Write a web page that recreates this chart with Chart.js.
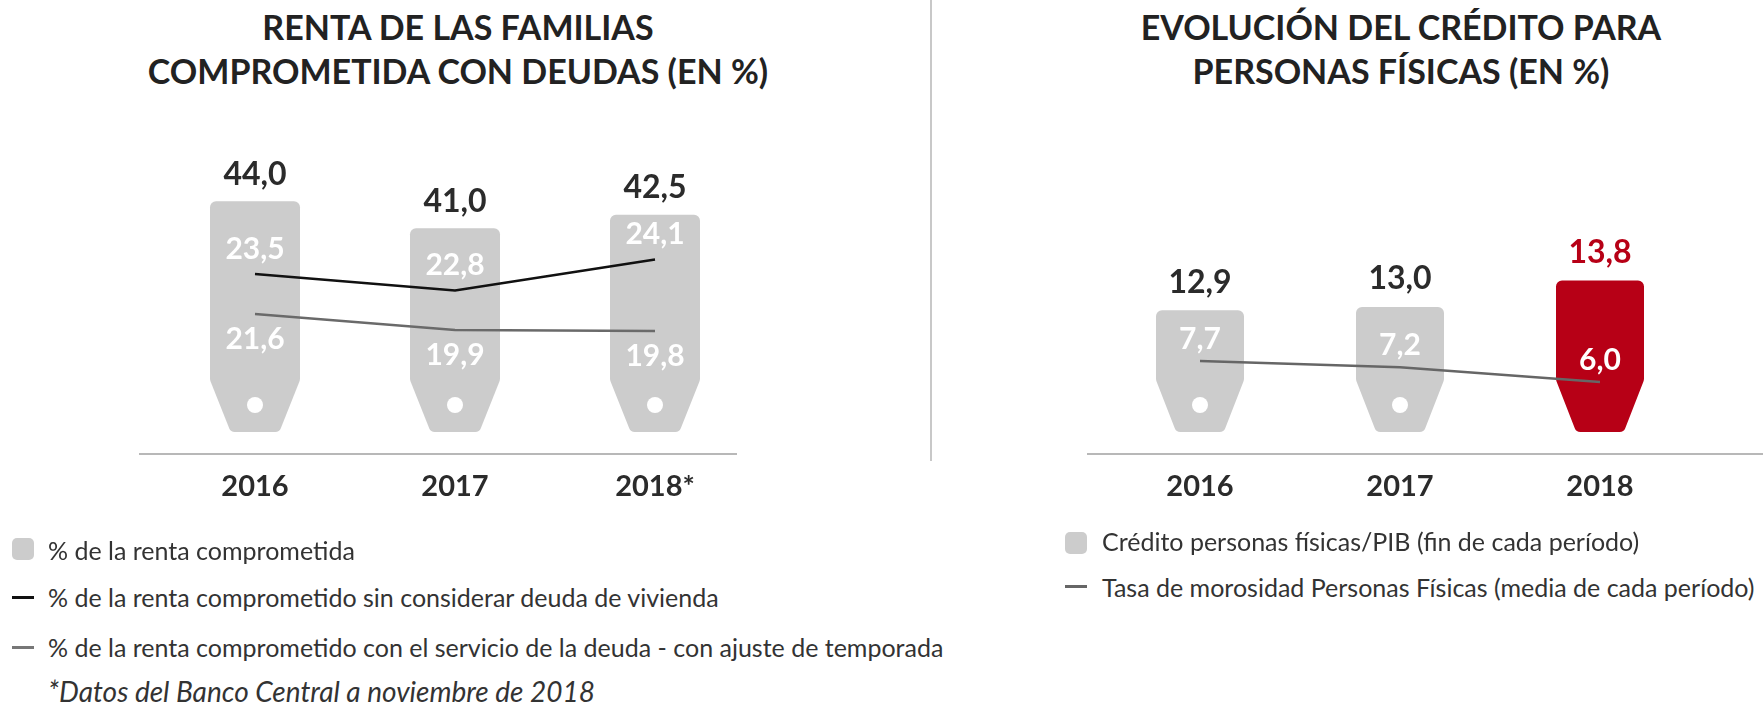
<!DOCTYPE html>
<html>
<head>
<meta charset="utf-8">
<script src="https://cdn.jsdelivr.net/npm/chart.js@4.4.0/dist/chart.umd.min.js"></script>
<style>
  body { margin: 0; width: 1763px; height: 709px; background: #fff; position: relative; overflow: hidden; font-family: Lato, "Open Sans", sans-serif; color: #2b2b2b; }
  .title { position: absolute; top: 5px; width: 800px; text-align: center; font-weight: 700; font-size: 34px; line-height: 44px; color: #222; }
  .divider { position: absolute; left: 930px; top: 0; width: 1.5px; height: 461px; background: #c8c8c8; }
  .leg { position: absolute; font-size: 25px; line-height: 30px; white-space: nowrap; color: #333; }
  .box { position: absolute; width: 22px; height: 22px; border-radius: 5px; background: #cccccc; }
  .dash { position: absolute; width: 22px; height: 3px; }
  canvas { position: absolute; top: 110px; }
</style>
</head>
<body>
<div class="title" style="left:58px">RENTA DE LAS FAMILIAS<br>COMPROMETIDA CON DEUDAS (EN %)</div>
<div class="title" style="left:1001px">EVOLUCIÓN DEL CRÉDITO PARA<br>PERSONAS FÍSICAS (EN %)</div>
<div class="divider"></div>

<canvas id="left" width="931" height="432" style="left:0"></canvas>
<canvas id="right" width="832" height="432" style="left:931px"></canvas>

<div class="box" style="left:12px;top:538px"></div>
<div class="leg" style="left:48px;top:535px">% de la renta comprometida</div>
<div class="dash" style="left:12px;top:596px;background:#111"></div>
<div class="leg" style="left:48px;top:582px">% de la renta comprometido sin considerar deuda de vivienda</div>
<div class="dash" style="left:12px;top:646px;background:#777"></div>
<div class="leg" style="left:48px;top:632px">% de la renta comprometido con el servicio de la deuda - con ajuste de temporada</div>
<div class="leg" style="left:48px;top:676px;font-style:italic;font-size:28px">*Datos del Banco Central a noviembre de 2018</div>

<div class="box" style="left:1065px;top:532px"></div>
<div class="leg" style="left:1102px;top:526px">Crédito personas físicas/PIB (fin de cada período)</div>
<div class="dash" style="left:1065px;top:585px;background:#666"></div>
<div class="leg" style="left:1102px;top:572px">Tasa de morosidad Personas Físicas (media de cada período)</div>

<script>
// left chart
const yearsLeft = ['2016', '2017', '2018*'];
const rentaComprometida = [44.0, 41.0, 42.5];
const sinVivienda = [23.5, 22.8, 24.1];
const servicioDeuda = [21.6, 19.9, 19.8];

// right chart
const yearsRight = ['2016', '2017', '2018'];
const creditoPIB = [12.9, 13.0, 13.8];
const morosidad = [7.7, 7.2, 6.0];

const GRAY = '#cccccc';
const RED = '#b70016';

// value where the tags end (bottom of the plot area)
const leftBase = 18.36;
const rightBase = 9.212;

function fmt(v) {
    return v.toFixed(1).replace('.', ',');
}

// price-tag shaped bars
function drawTag(ctx, x, top, base, w, color, hole) {
    const l = x - w / 2, r = x + w / 2;
    const neck = base - 52;
    const bw = w * 0.27;
    ctx.save();
    ctx.fillStyle = color;
    ctx.beginPath();
    ctx.moveTo(x, top);
    ctx.arcTo(r, top, r, neck, 6);
    ctx.arcTo(r, neck, x + bw, base, 8);
    ctx.arcTo(x + bw, base, x - bw, base, 6);
    ctx.arcTo(x - bw, base, l, neck, 6);
    ctx.arcTo(l, neck, l, top, 8);
    ctx.arcTo(l, top, x, top, 6);
    ctx.closePath();
    ctx.fill();
    if (hole) {
        ctx.fillStyle = '#fff';
        ctx.beginPath();
        ctx.arc(x, base - 27, 8, 0, Math.PI * 2);
        ctx.fill();
    }
    ctx.restore();
}

const tagPlugin = {
    id: 'tags',
    beforeDatasetDraw(chart, args, opts) {
        if (args.meta.type !== 'bar') return;
        const ctx = chart.ctx;
        args.meta.data.forEach((el, j) => {
            const p = el.getProps(['x', 'y', 'base', 'width'], true);
            drawTag(ctx, p.x, p.y, p.base, p.width, el.options.backgroundColor, opts.holes[j]);
        });
        return false;
    }
};

const axisLine = {
    id: 'axisLine',
    beforeDatasetsDraw(chart, args, opts) {
        const a = chart.chartArea;
        const ctx = chart.ctx;
        ctx.save();
        ctx.strokeStyle = '#a0a0a0';
        ctx.lineWidth = 1.5;
        ctx.beginPath();
        ctx.moveTo(a.left + opts.left, a.bottom + 22);
        ctx.lineTo(a.right + opts.right, a.bottom + 22);
        ctx.stroke();
        ctx.restore();
    }
};

const valueLabels = {
    id: 'valueLabels',
    afterDatasetsDraw(chart, args, opts) {
        const ctx = chart.ctx;
        opts.styles.forEach((st, i) => {
            const meta = chart.getDatasetMeta(i);
            const data = chart.data.datasets[i].data;
            meta.data.forEach((el, j) => {
                ctx.save();
                ctx.font = st.font;
                ctx.fillStyle = Array.isArray(st.color) ? st.color[j] : st.color;
                ctx.textAlign = 'center';
                ctx.textBaseline = 'middle';
                ctx.fillText(fmt(data[j]), el.x, el.y + st.offset);
                ctx.restore();
            });
        });
    }
};

function xScale() {
    return {
        grid: { display: false, drawTicks: false },
        border: { display: false },
        ticks: {
            color: '#2b2b2b',
            font: { family: 'Lato', size: 29, weight: 'bold' },
            padding: 37.6,
            maxRotation: 0
        }
    };
}

new Chart(document.getElementById('left'), {
    type: 'bar',
    data: {
        labels: yearsLeft,
        datasets: [{
            label: '% de la renta comprometida',
            data: rentaComprometida,
            base: leftBase,
            backgroundColor: GRAY,
            barThickness: 90,
            yAxisID: 'y',
            order: 3
        }, {
            type: 'line',
            label: '% de la renta comprometido sin considerar deuda de vivienda',
            data: sinVivienda,
            borderColor: '#111',
            borderWidth: 2.5,
            pointRadius: 0,
            yAxisID: 'y2',
            order: 1
        }, {
            type: 'line',
            label: '% de la renta comprometido con el servicio de la deuda - con ajuste de temporada',
            data: servicioDeuda,
            borderColor: '#6a6a6a',
            borderWidth: 2.5,
            pointRadius: 0,
            yAxisID: 'y3',
            order: 2
        }]
    },
    options: {
        responsive: false,
        animation: false,
        layout: { padding: { left: 155, right: 176, top: 0, bottom: 0 } },
        scales: {
            x: xScale(),
            y: { display: false, min: leftBase, max: 54.14 },
            y2: { display: false, min: 16.884, max: 30.357 },
            y3: { display: false, min: 9.146, max: 43.112 }
        },
        plugins: {
            legend: { display: false },
            tooltip: { enabled: false },
            tags: { holes: [true, true, true] },
            axisLine: { left: -16, right: -18 },
            valueLabels: {
                styles: [
                    { font: 'bold 32px Lato', color: '#2b2b2b', offset: -27 },
                    { font: 'bold 30px Lato', color: '#ffffff', offset: -25 },
                    { font: 'bold 30px Lato', color: '#ffffff', offset: 25 }
                ]
            }
        }
    },
    plugins: [tagPlugin, axisLine, valueLabels]
});

new Chart(document.getElementById('right'), {
    type: 'bar',
    data: {
        labels: yearsRight,
        datasets: [{
            label: 'Crédito personas físicas/PIB (fin de cada período)',
            data: creditoPIB,
            base: rightBase,
            backgroundColor: [GRAY, GRAY, RED],
            barThickness: 88,
            yAxisID: 'y',
            order: 2
        }, {
            type: 'line',
            label: 'Tasa de morosidad Personas Físicas (media de cada período)',
            data: morosidad,
            borderColor: '#666',
            borderWidth: 2.5,
            pointRadius: 0,
            yAxisID: 'y2',
            order: 1
        }]
    },
    options: {
        responsive: false,
        animation: false,
        layout: { padding: { left: 169, right: 63, top: 0, bottom: 0 } },
        scales: {
            x: xScale(),
            y: { display: false, min: rightBase, max: 18.97 },
            y2: { display: false, min: 1.951, max: 28.024 }
        },
        plugins: {
            legend: { display: false },
            tooltip: { enabled: false },
            tags: { holes: [true, true, false] },
            axisLine: { left: -13, right: 63 },
            valueLabels: {
                styles: [
                    { font: 'bold 32px Lato', color: ['#2b2b2b', '#2b2b2b', RED], offset: -28 },
                    { font: 'bold 30px Lato', color: '#ffffff', offset: -22 }
                ]
            }
        }
    },
    plugins: [tagPlugin, axisLine, valueLabels]
});
</script>
</body>
</html>
